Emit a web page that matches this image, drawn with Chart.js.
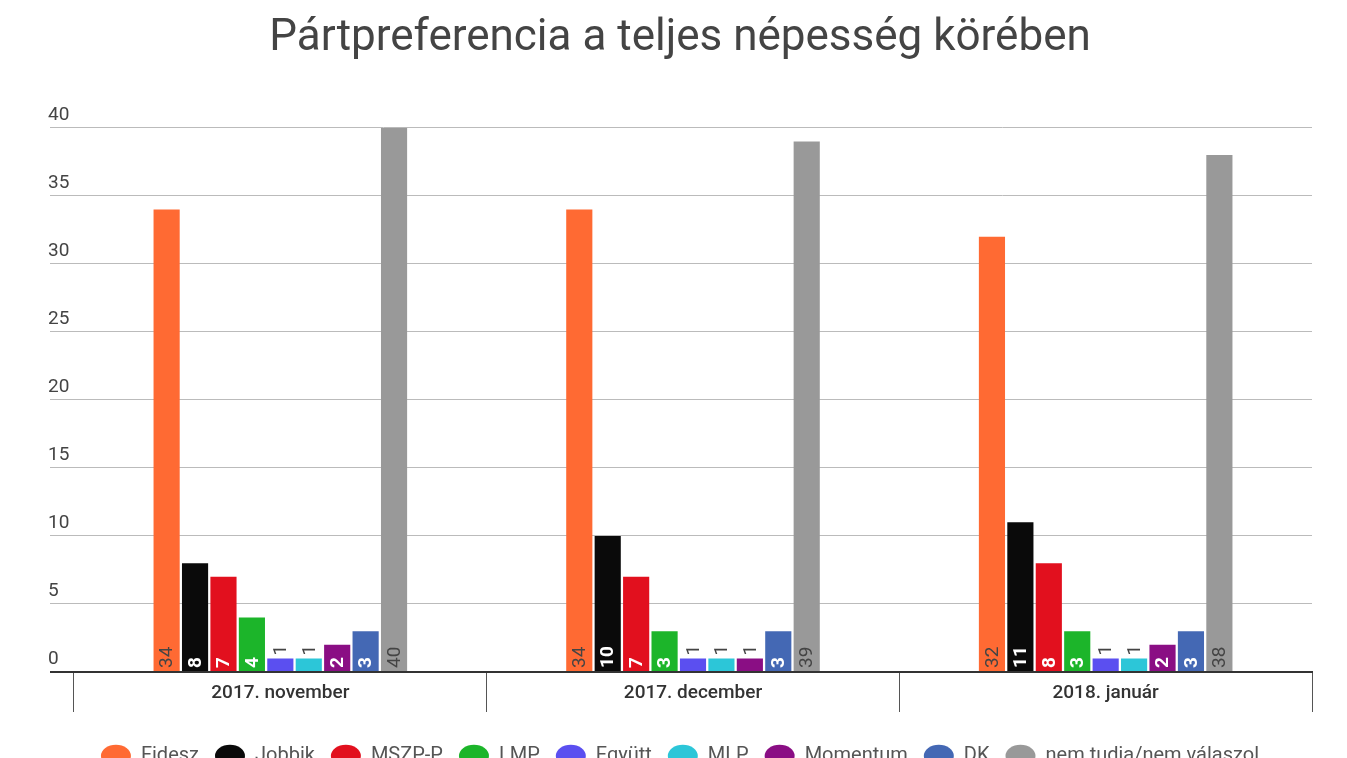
<!DOCTYPE html>
<html>
<head>
<meta charset="utf-8">
<script src="https://cdn.jsdelivr.net/npm/chart.js@4.4.0/dist/chart.umd.min.js"></script>
<style>
  html, body { margin: 0; padding: 0; background: #fff; overflow: hidden; }
  #wrap { width: 1347px; height: 776px; }
</style>
</head>
<body>
<div id="wrap"><canvas id="chart"></canvas></div>
<script>
const months = ['2017. november', '2017. december', '2018. január']
const parties = ['Fidesz', 'Jobbik', 'MSZP-P', 'LMP', 'Együtt', 'MLP', 'Momentum', 'DK', 'nem tudja/nem válaszol']
const partyColors = ['#FF6A33', '#0A0A0A', '#E2101E', '#1CB52A', '#5B4FF0', '#2CC6D8', '#8A0E84', '#4468B4', '#999999']

// values per party, one per month
const fidesz = [34, 34, 32]
const jobbik = [8, 10, 11]
const mszp = [7, 7, 8]
const lmp = [4, 3, 3]
const egyutt = [1, 1, 1]
const mlp = [1, 1, 1]
const momentum = [2, 1, 2]
const dk = [3, 3, 3]
const undecided = [40, 39, 38]

const yTicks = [0, 5, 10, 15, 20, 25, 30, 35, 40]

const seriesValues = [fidesz, jobbik, mszp, lmp, egyutt, mlp, momentum, dk, undecided]

const datasets = parties.map(function (name, i) {
  return {
    label: name,
    data: seriesValues[i],
    backgroundColor: partyColors[i],
    borderWidth: 0,
    categoryPercentage: 0.62,
    barPercentage: 0.92,
  }
})

// labels written vertically at the foot of each bar
const barLabels = {
  id: 'barLabels',
  afterDatasetsDraw(chart) {
    const ctx = chart.ctx
    chart.data.datasets.forEach(function (ds, di) {
      const meta = chart.getDatasetMeta(di)
      meta.data.forEach(function (bar, i) {
        const v = ds.data[i]
        const inside = v >= 2
        const light = di === 0 || di === parties.length - 1
        ctx.save()
        let startY = inside ? bar.base - 3 : bar.y - 3
        ctx.translate(bar.x, startY)
        ctx.rotate(-Math.PI / 2)
        ctx.textAlign = 'left'
        ctx.textBaseline = 'middle'
        if (inside && !light) {
          ctx.fillStyle = '#ffffff'
          ctx.font = 'bold 19px Roboto'
        } else {
          ctx.fillStyle = '#444444'
          ctx.font = '19px Roboto'
        }
        ctx.fillText(String(v), 0, 1)
        ctx.restore()
      })
    })
  }
}

const chart = new Chart(document.getElementById('chart'), {
  type: 'bar',
  data: { labels: months, datasets: datasets },
  plugins: [barLabels],
  options: {
    responsive: true,
    maintainAspectRatio: false,
    animation: false,
    layout: { padding: { left: 48, right: 35, bottom: 0 } },
    plugins: {
      title: {
        display: true,
        text: 'Pártpreferencia a teljes népesség körében',
        color: '#444',
        font: { family: 'Roboto', size: 44, weight: 'normal' },
        padding: { top: 13, bottom: 62 },
      },
      legend: {
        position: 'bottom',
        labels: {
          usePointStyle: true,
          pointStyle: 'circle',
          pointStyleWidth: 30,
          boxWidth: 16,
          boxHeight: 16,
          padding: 16,
          color: '#555',
          font: { family: 'Roboto', size: 20 },
        },
      },
      tooltip: { enabled: false },
    },
    scales: {
      x: {
        grid: {
          offset: true,
          drawOnChartArea: false,
          tickLength: 40,
          color: '#555',
          lineWidth: 1,
        },
        border: { display: true, color: '#333', width: 2 },
        ticks: {
          padding: -30,
          color: '#333',
          font: { family: 'Roboto', size: 19, weight: '500' },
        },
        afterFit: function (s) { s.height = 58 },
      },
      y: {
        min: 0,
        max: 40,
        afterBuildTicks: function (s) {
          s.ticks = yTicks.map(function (v) { return { value: v } })
        },
        afterFit: function (s) { s.width = 26 },
        border: { display: false },
        grid: {
          tickLength: 24,
          color: function (c) { return c.tick && c.tick.value === 0 ? '#333' : '#bbb' },
          lineWidth: function (c) { return c.tick && c.tick.value === 0 ? 2 : 1 },
        },
        ticks: {
          crossAlign: 'far',
          labelOffset: -13,
          padding: 0,
          color: '#444',
          font: { family: 'Roboto', size: 19 },
        },
      },
    },
  },
})
</script>
</body>
</html>
